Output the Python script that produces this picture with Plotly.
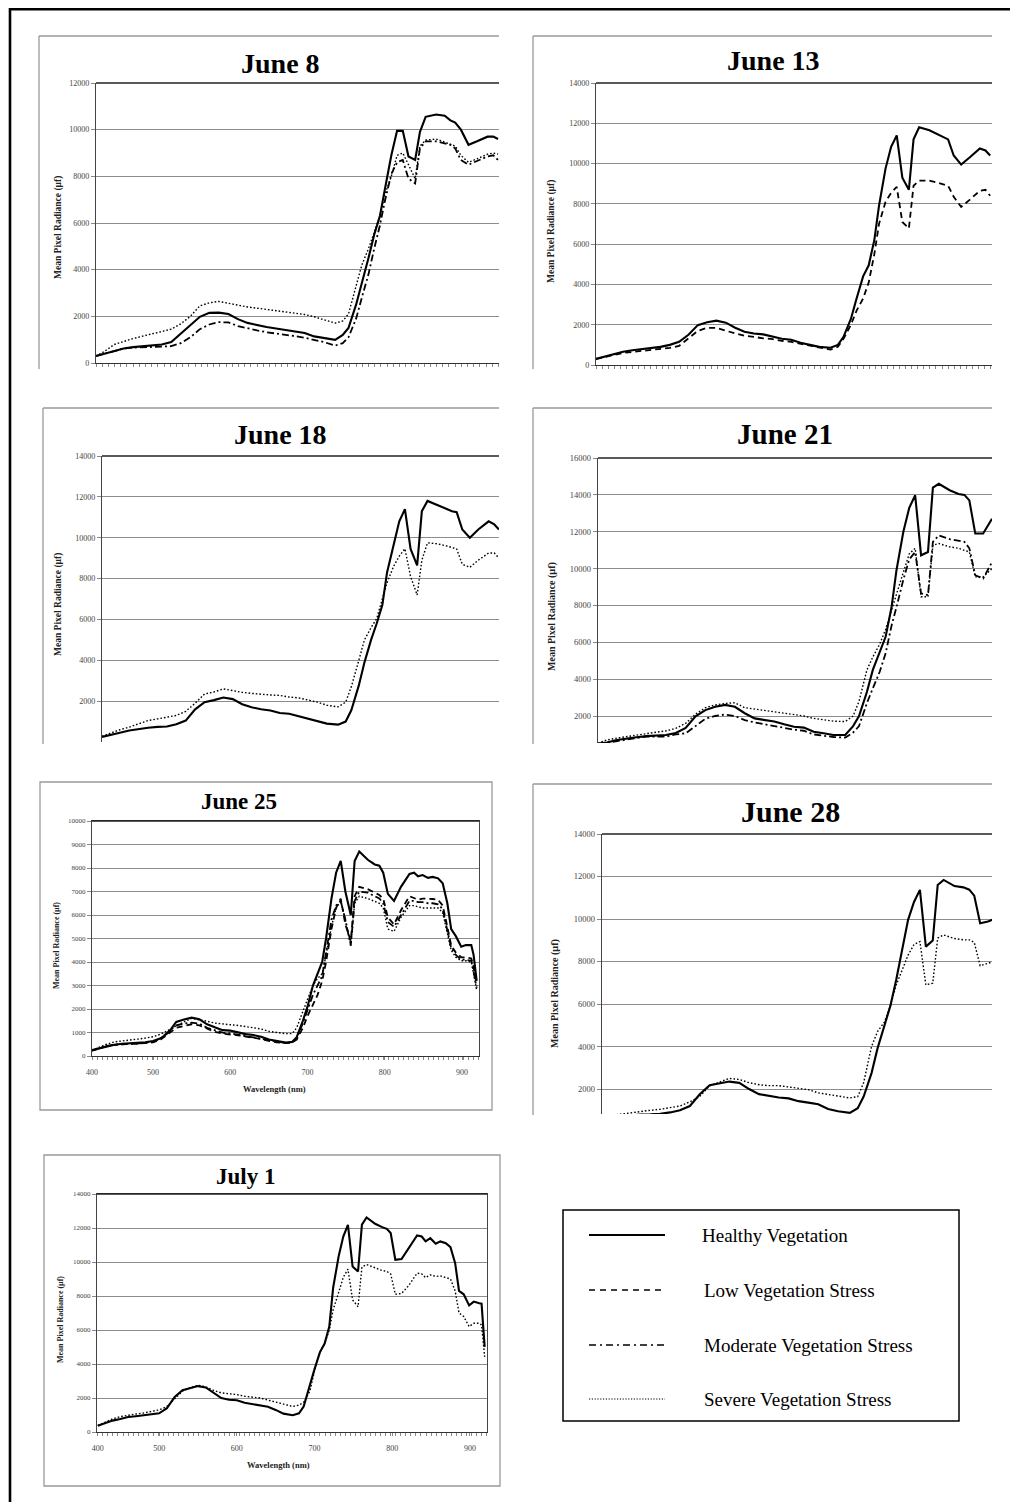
import plotly.graph_objects as go

# page body has an 8px margin: the figure covers reference pixels 8..1010 x 8..1502
OFFSET = 8
FIG_W, FIG_H = 1002, 1494
SERIF = "Liberation Serif, Times New Roman, serif"

# ---------------- data ----------------
wavelength = [421, 430, 440, 450, 460, 470, 480, 490, 500, 510,
              520, 530, 540, 550, 560, 570, 580, 590, 600, 610,
              620, 630, 640, 650, 660, 672, 680, 686, 694, 700,
              707, 713, 719, 724, 731, 737, 743, 749, 756, 761,
              767, 778, 787, 793, 798, 804, 812, 821, 832, 838,
              843, 849, 856, 862, 869, 875, 881, 886, 892, 899,
              905, 912, 915, 919]

jun08_healthy = [300, 400, 520, 620, 680, 720, 760, 790, 900, 1250,
                 1600, 1980, 2150, 2160, 2100, 1880, 1720, 1620, 1540, 1480,
                 1420, 1360, 1290, 1140, 1060, 990, 1200, 1500, 2500, 3400,
                 4500, 5500, 6300, 7400, 8900, 9950, 9950, 8850, 8700, 9900,
                 10550, 10650, 10600, 10400, 10300, 10000, 9350, 9500, 9700, 9700,
                 9600]
jun08_moderate = [300, 400, 520, 620, 660, 680, 700, 700, 720, 850,
                  1100, 1450, 1650, 1750, 1740, 1580, 1480, 1400, 1320, 1270,
                  1200, 1150, 1080, 1000, 900, 750, 850, 1100, 1900, 2800,
                  3800, 4900, 5900, 6900, 8100, 8600, 8700, 7900, 7700, 9200,
                  9500, 9500, 9400, 9350, 9200, 8700, 8500, 8650, 8850, 8900,
                  8700]
jun08_severe = [300, 500, 790, 930, 1050, 1150, 1240, 1330, 1450, 1680,
                2000, 2450, 2580, 2640, 2560, 2450, 2400, 2350, 2300, 2250,
                2200, 2140, 2080, 1980, 1850, 1710, 1800, 2100, 3300, 4200,
                4900, 5600, 6300, 7200, 8000, 8900, 9000, 8500, 7900, 9300,
                9550, 9600, 9450, 9350, 9300, 8900, 8600, 8750, 8950, 9000,
                8950]

jun13_healthy = [300, 400, 530, 660, 730, 790, 840, 900, 1000, 1150,
                 1500, 1980, 2120, 2200, 2100, 1850, 1650, 1560, 1520, 1400,
                 1300, 1250, 1100, 1000, 900, 860, 1000, 1400, 2300, 3300,
                 4400, 4950, 6200, 7900, 9750, 10830, 11400, 9300, 8700, 11200,
                 11800, 11650, 11450, 11300, 11200, 10400, 9950, 10300, 10750, 10650,
                 10400]
jun13_low = [300, 400, 520, 600, 650, 700, 730, 780, 850, 950,
             1300, 1690, 1850, 1840, 1700, 1560, 1450, 1400, 1320, 1290,
             1200, 1150, 1060, 980, 880, 760, 900, 1300, 2000, 2700,
             3300, 4100, 5500, 7000, 8100, 8550, 8840, 7100, 6780, 8900,
             9150, 9150, 9050, 8950, 8900, 8350, 7850, 8200, 8650, 8700,
             8400]

jun18_healthy = [250, 330, 450, 560, 640, 700, 740, 760, 870, 1050,
                 1600, 1950, 2050, 2180, 2100, 1850, 1700, 1600, 1540, 1420,
                 1380, 1260, 1150, 1000, 900, 850, 1000, 1550, 2770, 3900,
                 5000, 5800, 6700, 8300, 9700, 10800, 11400, 9450, 8650, 11300,
                 11800, 11600, 11400, 11300, 11250, 10400, 10000, 10400, 10800, 10650,
                 10400]
jun18_severe = [280, 450, 600, 730, 900, 1050, 1130, 1200, 1300, 1500,
                1900, 2350, 2450, 2600, 2500, 2430, 2380, 2330, 2300, 2280,
                2200, 2160, 2050, 1950, 1800, 1720, 1950, 2700, 4000, 5000,
                5600, 6040, 7010, 7800, 8600, 9100, 9460, 8100, 7200, 8900,
                9750, 9700, 9600, 9500, 9450, 8700, 8550, 8900, 9250, 9250,
                9000]

jun21_healthy = [500, 560, 700, 790, 850, 910, 940, 970, 1080, 1350,
                 1980, 2320, 2500, 2600, 2500, 2150, 1870, 1780, 1700, 1550,
                 1420, 1370, 1150, 1060, 970, 970, 1450, 2000, 3300, 4500,
                 5500, 6300, 7900, 9900, 12000, 13300, 13980, 10720, 10900, 14400,
                 14600, 14250, 14050, 14000, 13700, 11900, 11900, 12700]
jun21_moderate = [480, 560, 650, 700, 790, 880, 880, 880, 1000, 1060,
                  1450, 1850, 2000, 2080, 2000, 1780, 1650, 1550, 1450, 1330,
                  1260, 1200, 1000, 930, 860, 830, 1100, 1450, 2700, 3500,
                  4400, 5400, 6900, 7900, 9400, 10500, 10900, 8650, 8560, 11450,
                  11800, 11600, 11500, 11450, 11100, 9640, 9460, 10350]
jun21_severe = [520, 700, 800, 880, 1000, 1060, 1120, 1190, 1330, 1600,
                2100, 2450, 2600, 2680, 2720, 2450, 2380, 2320, 2250, 2140,
                2100, 2000, 1870, 1780, 1720, 1700, 2000, 2800, 4500, 5200,
                5900, 6700, 7800, 8600, 9800, 10800, 11100, 8470, 8470, 11270,
                11360, 11180, 11100, 11000, 10900, 9550, 9550, 10000]

jun25_healthy = [250, 330, 420, 480, 520, 540, 560, 580, 640, 750,
                 1000, 1450, 1550, 1630, 1560, 1350, 1220, 1100, 1080, 1000,
                 930, 890, 820, 700, 640, 570, 600, 800, 1500, 2100,
                 3000, 3500, 4000, 5000, 6700, 7800, 8300, 7000, 6000, 8300,
                 8700, 8350, 8150, 8100, 7800, 6900, 6600, 7200, 7750, 7800,
                 7650, 7700, 7580, 7620, 7560, 7350, 6500, 5400, 5100, 4650,
                 4720, 4720, 4300, 3200]
jun25_low = [230, 320, 420, 470, 500, 520, 520, 550, 580, 700,
             950, 1200, 1280, 1350, 1300, 1150, 1030, 950, 930, 880,
             830, 780, 720, 640, 580, 550, 580, 700, 1200, 1700,
             2200, 2600, 3200, 4000, 5400, 6300, 6700, 5600, 4900, 6800,
             7200, 7100, 6950, 6850, 6700, 5900, 5600, 6200, 6800, 6700,
             6650, 6700, 6700, 6680, 6650, 6400, 5500, 4700, 4400, 4200,
             4200, 4150, 3800, 3000]
jun25_moderate = [230, 320, 430, 480, 510, 520, 530, 560, 600, 750,
                  1050, 1300, 1380, 1420, 1380, 1200, 1080, 990, 960, 900,
                  850, 800, 730, 650, 590, 550, 570, 750, 1400, 2000,
                  2600, 3000, 3400, 4400, 5800, 6400, 6600, 5800, 4700, 6600,
                  7000, 6950, 6800, 6700, 6500, 5700, 5500, 6000, 6600, 6600,
                  6550, 6550, 6500, 6500, 6450, 6250, 5300, 4600, 4300, 4100,
                  4100, 4050, 3600, 2900]
jun25_severe = [250, 380, 500, 600, 650, 700, 720, 760, 820, 930,
                1100, 1300, 1450, 1600, 1550, 1480, 1400, 1350, 1330, 1300,
                1260, 1220, 1150, 1050, 1000, 950, 950, 1200, 1900, 2400,
                3000, 3300, 3500, 4300, 5500, 6300, 6600, 5800, 4700, 6500,
                6800, 6700, 6600, 6500, 6300, 5400, 5300, 5900, 6400, 6400,
                6350, 6300, 6300, 6300, 6300, 6100, 5200, 4500, 4200, 4050,
                4050, 4000, 3500, 2800]

jun28_healthy = [640, 680, 720, 760, 800, 810, 830, 900, 1000, 1200,
                 1750, 2180, 2250, 2350, 2290, 2000, 1760, 1670, 1600, 1560,
                 1430, 1360, 1280, 1060, 950, 880, 1100, 1650, 2750, 3900,
                 5000, 5900, 7140, 8390, 9960, 10800, 11370, 8700, 8990, 11600,
                 11840, 11550, 11490, 11380, 11100, 9800, 9880, 10050]
jun28_severe = [700, 760, 830, 900, 950, 1000, 1050, 1120, 1200, 1400,
                1650, 2150, 2330, 2500, 2450, 2300, 2200, 2160, 2160, 2100,
                2050, 1970, 1820, 1740, 1660, 1580, 1640, 2300, 4000, 4700,
                5150, 5900, 6900, 7500, 8300, 8800, 8940, 6900, 6980, 9100,
                9250, 9080, 9020, 9020, 8900, 7800, 7920, 8050]

jul01_healthy = [374, 500, 670, 760, 880, 930, 980, 1020, 1100, 1400,
                 2060, 2460, 2560, 2700, 2620, 2300, 2000, 1900, 1870, 1720,
                 1630, 1550, 1480, 1300, 1080, 990, 1100, 1500, 2800, 3700,
                 4700, 5200, 6200, 8500, 10320, 11500, 12190, 9730, 9440, 12200,
                 12620, 12250, 12050, 11950, 11700, 10130, 10170, 10810, 11560, 11500,
                 11210, 11400, 11070, 11210, 11100, 10870, 9930, 8300, 8100, 7450,
                 7670, 7570, 7550, 5010]
jul01_severe = [374, 560, 770, 900, 990, 1060, 1120, 1200, 1300, 1500,
                1970, 2400, 2600, 2750, 2650, 2450, 2300, 2250, 2200, 2100,
                2050, 2000, 1880, 1750, 1650, 1500, 1580, 1750, 2400, 3600,
                4700, 5200, 6000, 7200, 8200, 9100, 9580, 7770, 7370, 9700,
                9850, 9650, 9500, 9450, 9300, 8100, 8150, 8600, 9340, 9300,
                9080, 9240, 9150, 9180, 9100, 9000, 8300, 7000, 6800, 6200,
                6400, 6400, 6300, 4420]

x_tick_text = ["400", "500", "600", "700", "800", "900"]
x_tick_vals = [421, 500, 600, 700, 800, 900]

y_ticks_12k = [0, 2000, 4000, 6000, 8000, 10000, 12000]
y_ticks_14k = [0, 2000, 4000, 6000, 8000, 10000, 12000, 14000]
y_ticks_14k_cut = [2000, 4000, 6000, 8000, 10000, 12000, 14000]
y_ticks_16k_cut = [2000, 4000, 6000, 8000, 10000, 12000, 14000, 16000]
y_ticks_10k = [0, 1000, 2000, 3000, 4000, 5000, 6000, 7000, 8000, 9000, 10000]

legend_labels = ["Healthy Vegetation", "Low Vegetation Stress",
                 "Moderate Vegetation Stress", "Severe Vegetation Stress"]

# ---------------- styles ----------------
LINE = {
    "Healthy Vegetation": dict(color="black", width=2.1, dash="solid"),
    "Low Vegetation Stress": dict(color="black", width=1.8, dash="6px,4px"),
    "Moderate Vegetation Stress": dict(color="black", width=1.8, dash="7px,3px,2px,3px"),
    "Severe Vegetation Stress": dict(color="black", width=1.4, dash="1.6px,2px"),
}

H, L, M, S = legend_labels

panels = [
    dict(title="June 8", series=[(H, jun08_healthy), (M, jun08_moderate), (S, jun08_severe)],
         xrange=[421, 844], yrange=[0, 12000], yticks=y_ticks_12k,
         box=(96, 499, 83, 363), frame=(39, 36, 499, 369), closed=False,
         title_xy=(280, 63), title_size=28, ytitle_xy=(58, 228), ytitle_size=9.5,
         tick_size=8, labeled=False, bottom=True),
    dict(title="June 13", series=[(H, jun13_healthy), (L, jun13_low)],
         xrange=[421, 845], yrange=[0, 14000], yticks=y_ticks_14k,
         box=(596, 992, 83, 365), frame=(533, 36, 992, 369), closed=False,
         title_xy=(773, 61), title_size=28, ytitle_xy=(552, 232), ytitle_size=9.5,
         tick_size=8, labeled=False, bottom=True),
    dict(title="June 18", series=[(H, jun18_healthy), (S, jun18_severe)],
         xrange=[421, 843], yrange=[0, 14000], yticks=y_ticks_14k_cut,
         box=(102, 499, 456, 742), frame=(43, 408, 499, 744), closed=False,
         title_xy=(280, 434), title_size=28, ytitle_xy=(58, 605), ytitle_size=9.5,
         tick_size=8, labeled=False, bottom=False),
    dict(title="June 21", series=[(H, jun21_healthy), (M, jun21_moderate), (S, jun21_severe)],
         xrange=[421, 821], yrange=[535, 16000], yticks=y_ticks_16k_cut,
         box=(598, 992, 458, 743), frame=(533, 408, 992, 744), closed=False,
         title_xy=(785, 434), title_size=29, ytitle_xy=(552, 617), ytitle_size=10,
         tick_size=8.5, labeled=False, bottom=False),
    dict(title="June 25", series=[(H, jun25_healthy), (L, jun25_low), (M, jun25_moderate), (S, jun25_severe)],
         xrange=[421, 922], yrange=[0, 10000], yticks=y_ticks_10k,
         box=(92, 479, 821, 1056), frame=(40, 782, 492, 1110), closed=True,
         title_xy=(239, 802), title_size=23, ytitle_xy=(56, 946), ytitle_size=8,
         tick_size=7, labeled=True, bottom=True, xtitle_xy=(274, 1089)),
    dict(title="June 28", series=[(H, jun28_healthy), (S, jun28_severe)],
         xrange=[421, 816], yrange=[825, 14000], yticks=y_ticks_14k_cut,
         box=(602, 992, 834, 1114), frame=(533, 784, 992, 1115), closed=False,
         title_xy=(790, 811), title_size=30, ytitle_xy=(555, 994), ytitle_size=10,
         tick_size=8.5, labeled=False, bottom=False),
    dict(title="July 1", series=[(H, jul01_healthy), (S, jul01_severe)],
         xrange=[420, 922], yrange=[0, 14000], yticks=y_ticks_14k,
         box=(97, 487, 1194, 1432), frame=(44, 1155, 500, 1486), closed=True,
         title_xy=(245, 1176), title_size=23, ytitle_xy=(60, 1320), ytitle_size=8,
         tick_size=7, labeled=True, bottom=True, xtitle_xy=(278, 1465)),
]


def px(x):
    return (x - OFFSET) / FIG_W


def py(y):
    return 1 - (y - OFFSET) / FIG_H


fig = go.Figure()
layout = dict(width=FIG_W, height=FIG_H, margin=dict(l=0, r=0, t=0, b=0, pad=0),
              paper_bgcolor="white", plot_bgcolor="white", template="none",
              showlegend=False, font=dict(family=SERIF, color="#333"))
shapes, annotations = [], []

# outer frame (only its top and left sides fall inside the picture)
frame_line = dict(color="black", width=2.6)
shapes.append(dict(type="line", xref="paper", yref="paper",
                   x0=px(10), x1=px(1030), y0=py(9.3), y1=py(9.3), line=frame_line))
shapes.append(dict(type="line", xref="paper", yref="paper",
                   x0=px(10), x1=px(10), y0=py(8), y1=py(1540), line=frame_line))

for i, p in enumerate(panels, start=1):
    sfx = "" if i == 1 else str(i)
    xa, ya = "x" + sfx, "y" + sfx
    for name, vals in p["series"]:
        fig.add_trace(go.Scatter(x=wavelength[:len(vals)], y=vals, mode="lines",
                                 line=LINE[name], name=name, xaxis=xa, yaxis=ya,
                                 hoverinfo="skip", showlegend=False))
    x0, x1, y0, y1 = p["box"]
    xax = dict(domain=[px(x0), px(x1)], range=p["xrange"], anchor=ya,
               showgrid=False, zeroline=False, showline=p["bottom"],
               linecolor="#333", linewidth=1.3, mirror=p["closed"],
               ticks="outside" if p["bottom"] else "", ticklen=3, tickcolor="#888",
               tickfont=dict(family=SERIF, size=p["tick_size"] + 1, color="#444"))
    if p["labeled"]:
        xax.update(tickmode="array", tickvals=x_tick_vals, ticktext=x_tick_text,
                   ticklabelstandoff=5,
                   minor=dict(ticks="outside", ticklen=3, tick0=421, dtick=6.5,
                              tickcolor="#888", showgrid=False))
    else:
        xax.update(tickmode="linear", tick0=421, dtick=6.5, showticklabels=False)
    yax = dict(domain=[py(y1), py(y0)], range=p["yrange"], anchor=xa,
               tickmode="array", tickvals=p["yticks"], tickformat="d",
               exponentformat="none",
               showgrid=True, gridcolor="#8c8c8c", gridwidth=1.2, zeroline=False,
               showline=True, linecolor="#444", linewidth=1.4, mirror=p["closed"],
               ticks="outside", ticklen=4, tickcolor="#888",
               tickfont=dict(family=SERIF, size=p["tick_size"], color="#444"))
    layout["xaxis" + sfx] = xax
    layout["yaxis" + sfx] = yax

    # top border of the plot area
    shapes.append(dict(type="line", xref=xa + " domain", yref=ya + " domain",
                       x0=0, x1=1, y0=1, y1=1, line=dict(color="#222", width=1.5)))

    # panel frame
    fx0, fy0, fx1, fy1 = p["frame"]
    gray = dict(color="#9a9a9a", width=1.3)
    if p["closed"]:
        shapes.append(dict(type="rect", xref="paper", yref="paper",
                           x0=px(fx0), x1=px(fx1), y0=py(fy1), y1=py(fy0), line=gray))
    else:
        shapes.append(dict(type="line", xref="paper", yref="paper",
                           x0=px(fx0), x1=px(fx1), y0=py(fy0), y1=py(fy0), line=gray))
        shapes.append(dict(type="line", xref="paper", yref="paper",
                           x0=px(fx0), x1=px(fx0), y0=py(fy0), y1=py(fy1), line=gray))

    tx, ty = p["title_xy"]
    annotations.append(dict(text="<b>%s</b>" % p["title"], xref="paper", yref="paper",
                            x=px(tx), y=py(ty), showarrow=False, xanchor="center",
                            yanchor="middle",
                            font=dict(family=SERIF, size=p["title_size"], color="black")))
    ax_, ay_ = p["ytitle_xy"]
    annotations.append(dict(text="<b>Mean Pixel Radiance (µf)</b>", xref="paper", yref="paper",
                            x=px(ax_), y=py(ay_), showarrow=False, textangle=-90,
                            xanchor="center", yanchor="middle",
                            font=dict(family=SERIF, size=p["ytitle_size"], color="#222")))
    if "xtitle_xy" in p:
        bx, by = p["xtitle_xy"]
        annotations.append(dict(text="<b>Wavelength (nm)</b>", xref="paper", yref="paper",
                                x=px(bx), y=py(by), showarrow=False,
                                xanchor="center", yanchor="middle",
                                font=dict(family=SERIF, size=p["ytitle_size"] + 0.5, color="#222")))

# ---------------- legend box ----------------
shapes.append(dict(type="rect", xref="paper", yref="paper",
                   x0=px(563), x1=px(959), y0=py(1421), y1=py(1210),
                   line=dict(color="black", width=1.5)))
legend_rows = [1235, 1290, 1345, 1399]
legend_text_x = [700, 702, 702, 702]
legend_dash = {
    H: dict(color="black", width=2, dash="solid"),
    L: dict(color="black", width=1.5, dash="6px,5px"),
    M: dict(color="black", width=1.5, dash="7px,4px,2px,4px"),
    S: dict(color="black", width=1.1, dash="1.2px,1.6px"),
}
for lab, ry, tx in zip(legend_labels, legend_rows, legend_text_x):
    shapes.append(dict(type="line", xref="paper", yref="paper",
                       x0=px(589), x1=px(665), y0=py(ry), y1=py(ry), line=legend_dash[lab]))
    annotations.append(dict(text=lab, xref="paper", yref="paper", x=px(tx), y=py(ry),
                            xanchor="left", yanchor="middle", showarrow=False,
                            font=dict(family=SERIF, size=19, color="black")))

layout["shapes"] = shapes
layout["annotations"] = annotations
fig.update_layout(**layout)
fig.write_html("out.html")
